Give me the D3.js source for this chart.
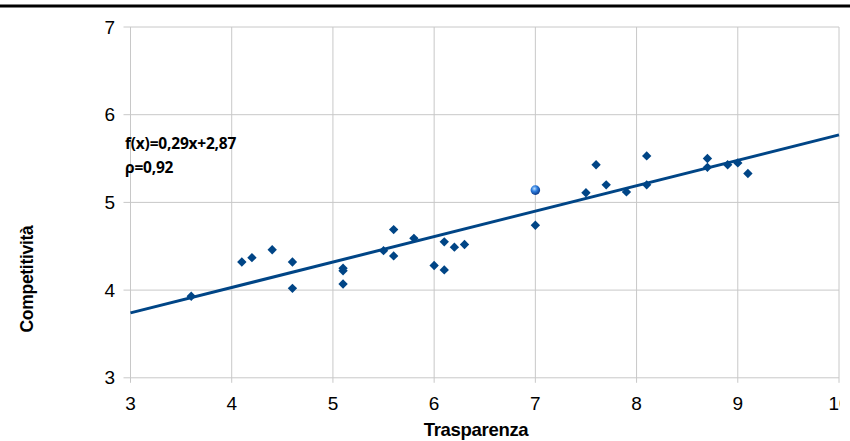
<!DOCTYPE html>
<html><head><meta charset="utf-8">
<script src="https://cdn.jsdelivr.net/npm/d3@7"></script>
<style>body{margin:0;background:#fff}svg{display:block}</style>
</head><body>
<svg id="c" width="850" height="441"></svg>
<script>
const xValues = [3.6,4.1,4.2,4.4,4.6,4.6,5.1,5.1,5.1,5.5,5.6,5.6,5.8,6.0,6.1,6.1,6.2,6.3,7.0,7.5,7.6,7.7,7.9,8.1,8.1,8.7,8.7,8.9,9.0,9.1];
const yValues = [3.93,4.32,4.37,4.46,4.32,4.02,4.25,4.22,4.07,4.45,4.69,4.39,4.59,4.28,4.55,4.23,4.49,4.52,4.74,5.11,5.43,5.20,5.12,5.53,5.20,5.50,5.40,5.43,5.45,5.33];
const highlightPoint = [7.0, 5.14];
const xTicks = [3,4,5,6,7,8,9,10];
const yTicks = [3,4,5,6,7];
const slope = 0.29, intercept = 2.87;
const equationLabel = "f(x)=0,29x+2,87";
const rhoLabel = "ρ=0,92";
const xTitle = "Trasparenza";
const yTitle = "Competitività";

const svg = d3.select("#c");
const x = d3.scaleLinear().domain([3,10]).range([130.5,839]);
const y = d3.scaleLinear().domain([3,7]).range([377.8,27]);
const blue = "#004586";

svg.append("line").attr("x1",0).attr("x2",850).attr("y1",6).attr("y2",6).attr("stroke","#000").attr("stroke-width",3);

const defs = svg.append("defs");
defs.append("clipPath").attr("id","clipR").append("rect").attr("x",0).attr("y",0).attr("width",840).attr("height",441);
const rg = defs.append("radialGradient").attr("id","sph").attr("cx","40%").attr("cy","35%").attr("r","65%");
rg.append("stop").attr("offset","0%").attr("stop-color","#bfe0ff");
rg.append("stop").attr("offset","45%").attr("stop-color","#2f7fe0");
rg.append("stop").attr("offset","100%").attr("stop-color","#0a3a8a");

const g = svg.append("g");

// grid
g.selectAll(".vg").data(xTicks).join("line")
  .attr("x1",d=>x(d)).attr("x2",d=>x(d)).attr("y1",y(7)).attr("y2",y(3)+5)
  .attr("stroke","#c8c8c8").attr("stroke-width",1);
g.selectAll(".hg").data(yTicks).join("line")
  .attr("x1",x(3)-7).attr("x2",x(10)).attr("y1",d=>y(d)).attr("y2",d=>y(d))
  .attr("stroke","#c8c8c8").attr("stroke-width",1);

// tick labels
g.append("g").attr("clip-path","url(#clipR)").selectAll(".xl").data(xTicks).join("text")
  .attr("x",d=>x(d)).attr("y",410).attr("text-anchor","middle")
  .attr("font-family","Liberation Sans, Arial, sans-serif").attr("font-size",19).attr("fill","#000")
  .text(d=>d);
g.selectAll(".yl").data(yTicks).join("text")
  .attr("x",115).attr("y",d=>y(d)+6.5).attr("text-anchor","end")
  .attr("font-family","Liberation Sans, Arial, sans-serif").attr("font-size",19).attr("fill","#000")
  .text(d=>d);

// regression line
g.append("line")
  .attr("x1",x(3)).attr("y1",y(slope*3+intercept))
  .attr("x2",x(10)).attr("y2",y(slope*10+intercept))
  .attr("stroke",blue).attr("stroke-width",3);

// points
const diamond = d3.symbol().type(d3.symbolDiamond2).size(56);
g.selectAll(".pt").data(xValues.map((v,i)=>[v,yValues[i]])).join("path")
  .attr("d",diamond).attr("transform",d=>`translate(${x(d[0])},${y(d[1])})`)
  .attr("fill",blue);
g.append("circle").attr("cx",x(highlightPoint[0])).attr("cy",y(highlightPoint[1])).attr("r",4.8)
  .attr("fill","url(#sph)");

// annotation
g.append("text").attr("x",125).attr("y",149).attr("font-family","Open Sans, sans-serif").attr("font-weight","bold")
  .attr("font-size",15.5).attr("letter-spacing",-0.2).attr("fill","#000").text(equationLabel);
g.append("text").attr("x",125).attr("y",173).attr("font-family","Open Sans, sans-serif").attr("font-weight","bold")
  .attr("font-size",15.5).attr("letter-spacing",-0.2).attr("fill","#000").text(rhoLabel);

// axis titles
svg.append("text").attr("x",476).attr("y",436).attr("text-anchor","middle")
  .attr("font-family","Liberation Sans, Arial, sans-serif").attr("font-weight","bold").attr("font-size",18.5)
  .attr("letter-spacing",-0.3).text(xTitle);
svg.append("text").attr("transform","translate(33,279) rotate(-90)").attr("text-anchor","middle")
  .attr("font-family","Liberation Sans, Arial, sans-serif").attr("font-weight","bold").attr("font-size",17.5)
  .attr("letter-spacing",-0.3).text(yTitle);
</script>
</body></html>
